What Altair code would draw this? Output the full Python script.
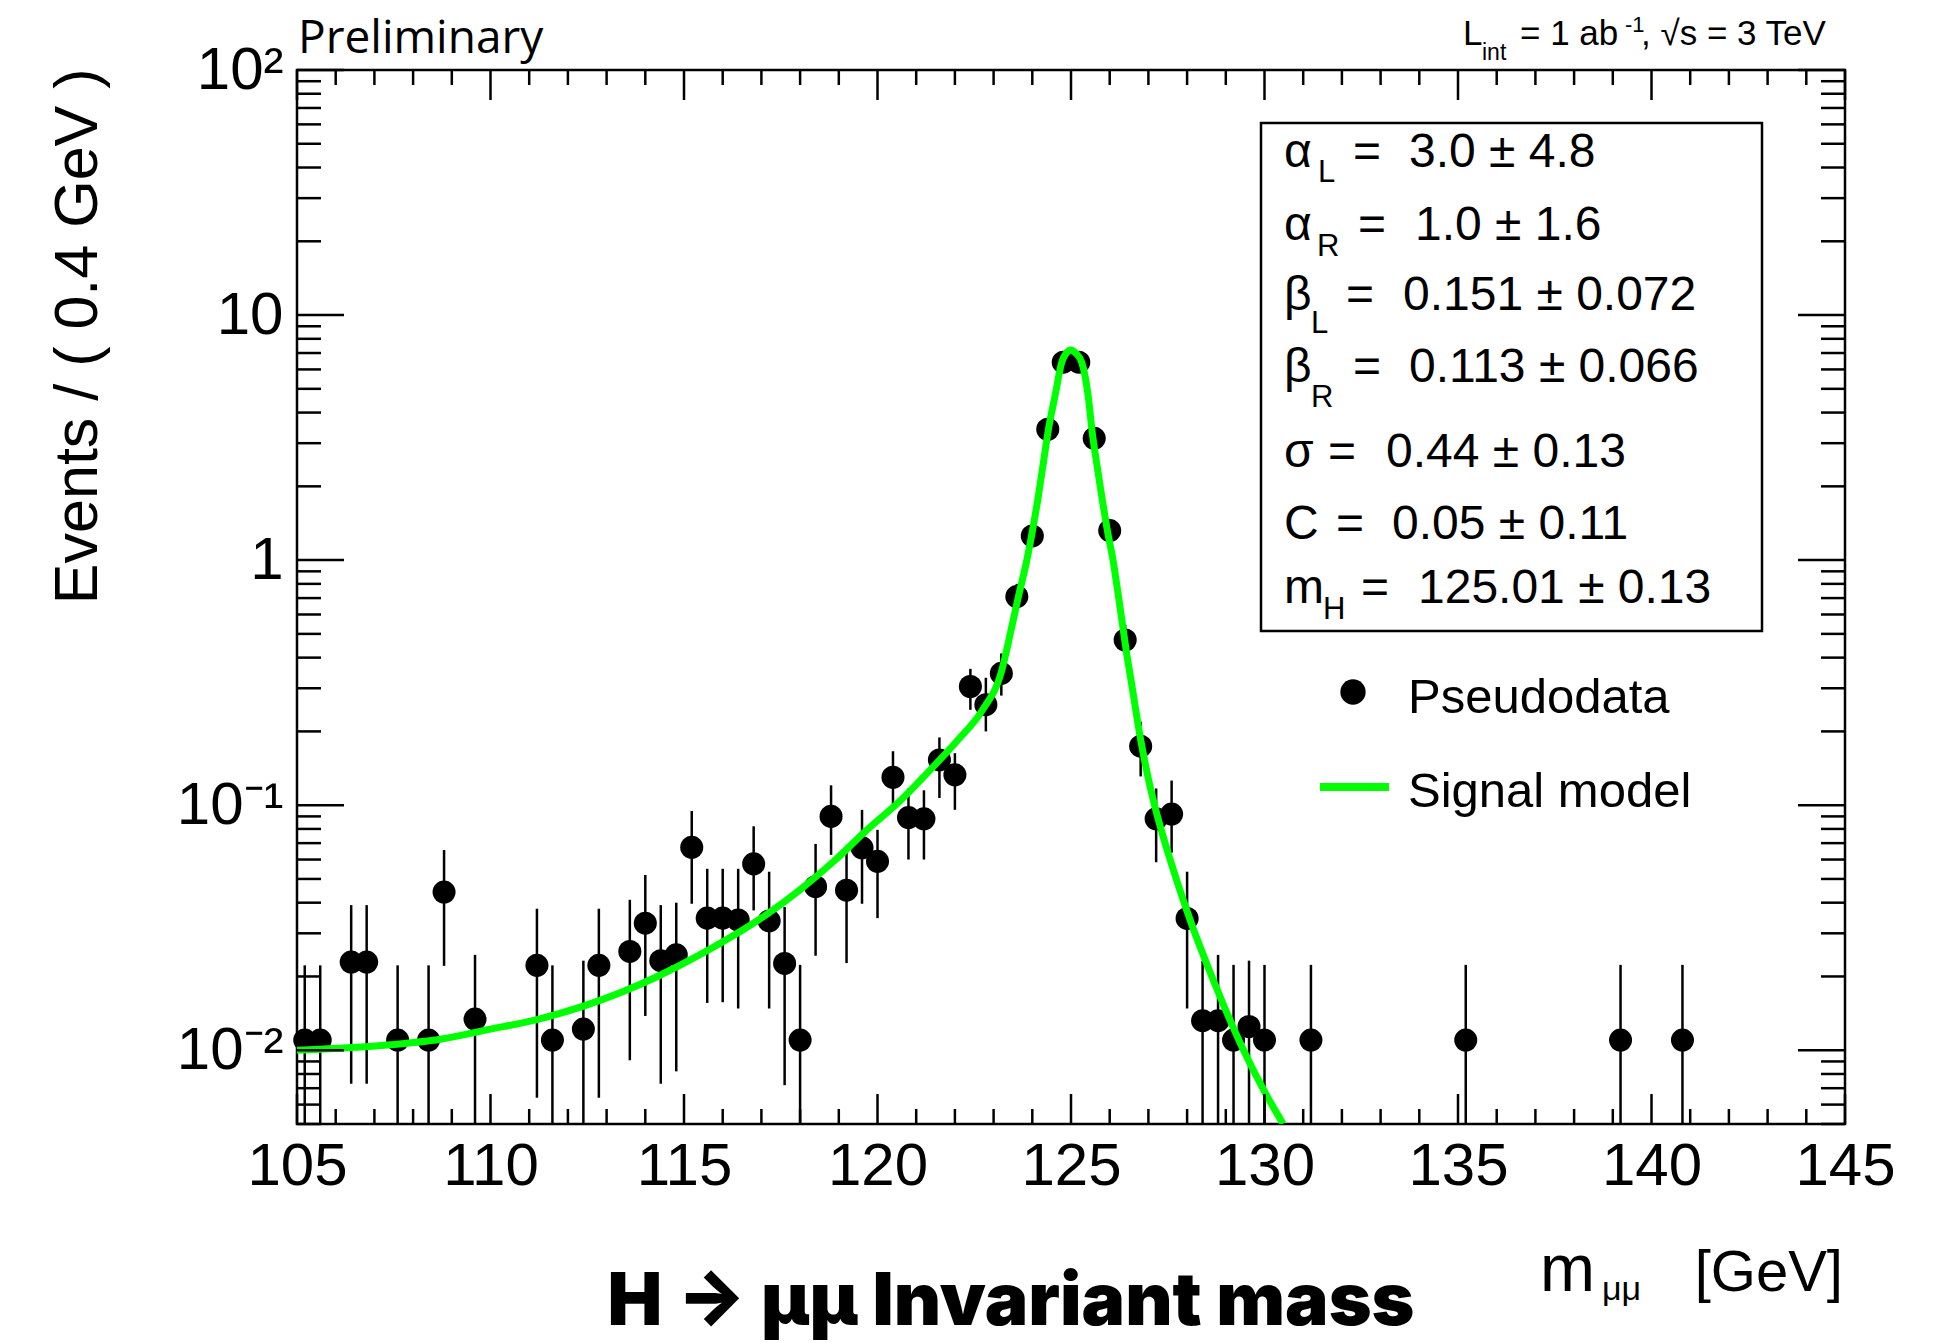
import altair as alt
import pandas as pd

# ---- binned pseudodata: bin centres of 0.4 GeV bins, weighted event counts ----
mass = [105.2, 105.6, 106.4, 106.8, 107.6, 108.4, 108.8, 109.6, 111.2, 111.6,
        112.4, 112.8, 113.6, 114.0, 114.4, 114.8, 115.2, 115.6, 116.0, 116.4,
        116.8, 117.2, 117.6, 118.0, 118.4, 118.8, 119.2, 119.6, 120.0, 120.4,
        120.8, 121.2, 121.6, 122.0, 122.4, 122.8, 123.2, 123.6, 124.0, 124.4,
        124.8, 125.2, 125.6, 126.0, 126.4, 126.8, 127.2, 127.6, 128.0, 128.4,
        128.8, 129.2, 129.6, 130.0, 131.2, 135.2, 139.2, 140.8]
events = [0.0110, 0.0110, 0.0229, 0.0229, 0.0110, 0.0110, 0.0442, 0.0134, 0.0222, 0.0110,
          0.0122, 0.0222, 0.0253, 0.0330, 0.0232, 0.0245, 0.0673, 0.0346, 0.0346, 0.0340,
          0.0576, 0.0337, 0.0226, 0.0110, 0.0465, 0.0900, 0.0450, 0.0670, 0.0590, 0.1300,
          0.0890, 0.0880, 0.1530, 0.1330, 0.3050, 0.2570, 0.3450, 0.7100, 1.2550, 3.4200,
          6.4200, 6.4200, 3.1400, 1.3200, 0.4720, 0.1740, 0.0880, 0.0920, 0.0345, 0.0132,
          0.0132, 0.0110, 0.0125, 0.0110, 0.0110, 0.0110, 0.0110, 0.0110]
# lower end of the error bar (None: the bar runs down to the frame)
err_low = [None, None, 0.0073, 0.0073, None, None, 0.0221, None, 0.0064, None,
           None, 0.0064, 0.0091, 0.0138, 0.0073, 0.0082, 0.0396, 0.0156, 0.0157, 0.0148,
           0.0372, 0.0148, 0.0072, None, 0.0243, 0.0627, 0.0227, 0.0396, 0.0346, 0.1000,
           0.0600, 0.0600, 0.1070, 0.0957, 0.2450, 0.2000, 0.2800, 0.6200, 1.1400, 3.2200,
           6.1300, 6.1300, 2.9400, 1.2000, 0.4000, 0.1310, 0.0585, 0.0640, 0.0148, None,
           None, None, None, None, None, None, None, None]
err_high = [0.0222, 0.0222, 0.0391, 0.0391, 0.0222, 0.0222, 0.0656, 0.0245, 0.0378, 0.0222,
            0.0232, 0.0378, 0.0411, 0.0519, 0.0391, 0.0400, 0.0947, 0.0550, 0.0550, 0.0550,
            0.0820, 0.0535, 0.0384, 0.0223, 0.0695, 0.1205, 0.0660, 0.0957, 0.0793, 0.1660,
            0.1170, 0.1150, 0.1890, 0.1630, 0.3600, 0.3310, 0.4160, 0.8000, 1.3700, 3.6200,
            6.7000, 6.7000, 3.3300, 1.4400, 0.5440, 0.2190, 0.1170, 0.1260, 0.0535, 0.0232,
            0.0245, 0.0223, 0.0232, 0.0223, 0.0223, 0.0223, 0.0223, 0.0223]

# ---- fitted signal model ----
model_mass = [105.0, 106.0, 107.4, 108.7, 110.0, 111.2, 112.4, 113.4, 114.3, 115.0,
              115.7, 116.3, 117.1, 118.0, 118.9, 119.7, 120.6, 121.4, 122.1, 122.7,
              123.2, 123.46, 123.64, 123.85, 123.98, 124.16, 124.29, 124.42, 124.59, 124.76,
              124.88, 125.0, 125.12, 125.28, 125.45, 125.55, 125.66, 125.79, 125.94, 126.09,
              126.2, 126.31, 126.42, 126.57, 126.8, 127.0, 127.2, 127.46, 127.81, 128.15,
              128.59, 129.02, 129.45, 129.97, 130.48]
model_events = [0.0100, 0.01016, 0.01052, 0.01109, 0.01219, 0.01334, 0.01514, 0.0173, 0.01995,
                0.02265, 0.0260, 0.0295, 0.0355, 0.0452, 0.0596, 0.0785, 0.1047, 0.1413,
                0.1862, 0.2427, 0.350, 0.526, 0.709, 0.984, 1.256, 1.84, 2.52, 3.44, 4.70,
                6.40, 7.00, 7.20, 7.00, 6.40, 4.60, 3.30, 2.50, 1.84, 1.32, 0.99,
                0.76, 0.575, 0.435, 0.31, 0.185, 0.128, 0.0944, 0.0676, 0.0452, 0.0316,
                0.0209, 0.0143, 0.01007, 0.00692, 0.00501]

# ---- axis labels ----
x_labels = [105, 110, 115, 120, 125, 130, 135, 140, 145]
y_labels = [0.01, 0.1, 1, 10, 100]
y_label_text = ["10⁻²", "10⁻¹", "1", "10", "10²"]

# ---- fit results ----
param_symbol = ["α", "α", "β", "β", "σ", "C", "m"]
param_index = ["L", "R", "L", "R", "", "", "H"]
param_value = ["3.0 ± 4.8", "1.0 ± 1.6", "0.151 ± 0.072", "0.113 ± 0.066",
               "0.44 ± 0.13", "0.05 ± 0.11", "125.01 ± 0.13"]

# ---- layout ----
W, H = 1548, 1054
PAD = {"left": 297, "top": 70, "right": 101, "bottom": 219}
YMIN, YMAX = 0.005, 100
FONT = "Liberation Sans"
GREEN = "#00ff00"

x_scale = alt.Scale(domain=[105, 145], nice=False, zero=False)
y_scale = alt.Scale(type="log", domain=[YMIN, YMAX], nice=False)

data = pd.DataFrame({
    "m": mass,
    "n": events,
    "lo": [YMIN if v is None else v for v in err_low],
    "hi": err_high,
})
model = pd.DataFrame({"m": model_mass, "n": model_events})

label_expr = ""
for v, t in zip(y_labels, y_label_text):
    label_expr += f"abs(datum.value - {v}) < {v * 0.01} ? '{t}' : "
label_expr += "''"

# every layer that encodes a field on x / y carries the same axis definition,
# so that the shared axes merge into one
x_axis = alt.Axis(values=x_labels, title=None, ticks=False, domain=False,
                  grid=False, labelFont=FONT, labelFontSize=60, labelColor="black",
                  labelPadding=13, labelFlush=False, labelOverlap=False, format="d")
y_axis = alt.Axis(values=y_labels, labelExpr=label_expr, ticks=False,
                  domain=False, grid=False, labelFont=FONT, labelFontSize=60,
                  labelColor="black", labelPadding=14,
                  title="Events / ( 0.4 GeV )", titleFont=FONT, titleFontSize=61,
                  titleFontWeight="normal", titleColor="black", titleAngle=270,
                  titleAlign="right", titleBaseline="alphabetic",
                  titleX=-201, titleY=-2)


def X(field):
    return alt.X(f"{field}:Q", scale=x_scale, axis=x_axis, title=None)


def Y(field):
    return alt.Y(f"{field}:Q", scale=y_scale, axis=y_axis, title="Events / ( 0.4 GeV )")


tick_style = dict(color="black", strokeWidth=2.5)


def x_ticks(values, length):
    df = pd.DataFrame({"m": values})
    bottom = alt.Chart(df).mark_rule(**tick_style).encode(
        x=X("m"), y=alt.value(H), y2=alt.value(H - length))
    top = alt.Chart(df).mark_rule(**tick_style).encode(
        x=X("m"), y=alt.value(0), y2=alt.value(length))
    return [bottom, top]


def y_ticks(values, length):
    df = pd.DataFrame({"n": values})
    left = alt.Chart(df).mark_rule(**tick_style).encode(
        y=Y("n"), x=alt.value(0), x2=alt.value(length))
    right = alt.Chart(df).mark_rule(**tick_style).encode(
        y=Y("n"), x=alt.value(W), x2=alt.value(W - length))
    return [left, right]


x_major = list(range(105, 146, 5))
x_minor = [m for m in range(105, 146) if m % 5]
y_major = y_labels
y_minor = [round(k * 10.0 ** e, 6) for e in range(-3, 2) for k in range(2, 10)
           if YMIN <= k * 10.0 ** e <= YMAX]

one = pd.DataFrame({"k": [0]})


def note(text, x, y, size, font=FONT, weight="normal", align="left", color="black"):
    return alt.Chart(one).mark_text(
        text=text, font=font, fontSize=size, fontWeight=weight, align=align,
        baseline="alphabetic", color=color,
    ).encode(x=alt.value(x), y=alt.value(y))


layers = []
# error bars and data points
layers.append(alt.Chart(data).mark_rule(color="black", strokeWidth=2.5, clip=True).encode(
    x=X("m"), y=Y("lo"), y2="hi:Q",
))
layers.append(alt.Chart(data).mark_circle(color="black", opacity=1, size=531).encode(
    x=X("m"), y=Y("n"),
))
# signal model curve
layers.append(alt.Chart(model).mark_line(color=GREEN, strokeWidth=7, clip=True,
                                         interpolate="monotone").encode(
    x=X("m"), y=Y("n"),
))

# inward ticks on all four sides
layers += x_ticks(x_major, 30) + x_ticks(x_minor, 15)
layers += y_ticks(y_major, 47) + y_ticks(y_minor, 24)

# fit-result box
layers.append(alt.Chart(one).mark_rect(fill="white", stroke="black", strokeWidth=2.5).encode(
    x=alt.value(964), x2=alt.value(1465), y=alt.value(53), y2=alt.value(561)))

row_base = [96.6, 169.6, 239.7, 312.4, 396.5, 469.0, 533.3]
row_sub_base = [112, 186, 263, 337, 0, 0, 549]
row_sub_x = [1021, 1020, 1014, 1014, 0, 0, 1026]
row_eq_x = [1056, 1061, 1049, 1056, 1031, 1039, 1064]
row_val_x = [1112, 1118, 1106, 1112, 1089, 1095, 1121]
for i in range(len(param_symbol)):
    layers.append(note(param_symbol[i], 987, row_base[i], 48))
    if param_index[i]:
        layers.append(note(param_index[i], row_sub_x[i], row_sub_base[i], 31))
    layers.append(note("=", row_eq_x[i], row_base[i], 48))
    layers.append(note(param_value[i], row_val_x[i], row_base[i], 48))

# legend
layers.append(alt.Chart(one).mark_circle(color="black", opacity=1, size=640).encode(
    x=alt.value(1056), y=alt.value(622)))
layers.append(note("Pseudodata", 1111, 643, 49))
layers.append(alt.Chart(one).mark_rule(color=GREEN, strokeWidth=8).encode(
    x=alt.value(1023), x2=alt.value(1092), y=alt.value(717)))
layers.append(note("Signal model", 1111, 737, 49))

# header texts
layers.append(note("Preliminary", 1, -17, 46, font="Open Sans"))
layers.append(note("L", 1166, -25, 35))
layers.append(note("int", 1185, -10, 23))
layers.append(note("= 1 ab", 1223, -25, 35))
layers.append(note("-1", 1328, -38, 22))
layers.append(note(", √s = 3 TeV", 1344, -25, 35))

# x-axis title and chart title
layers.append(note("m", 1243, 1221, 66))
layers.append(note("μμ", 1305, 1230, 34))
layers.append(note("[GeV]", 1546, 1221, 58, align="right"))
layers.append(note("H → μμ Invariant mass", 714, 1255, 73, font="Inter", weight=900,
                   align="center"))

chart = alt.layer(*layers).properties(
    width=W, height=H, padding=PAD,
    autosize=alt.AutoSizeParams(type="none"),
    background="white",
).configure_view(stroke="black", strokeWidth=2.5)

chart.save("out.html", embed_options={"renderer": "svg", "actions": False})
